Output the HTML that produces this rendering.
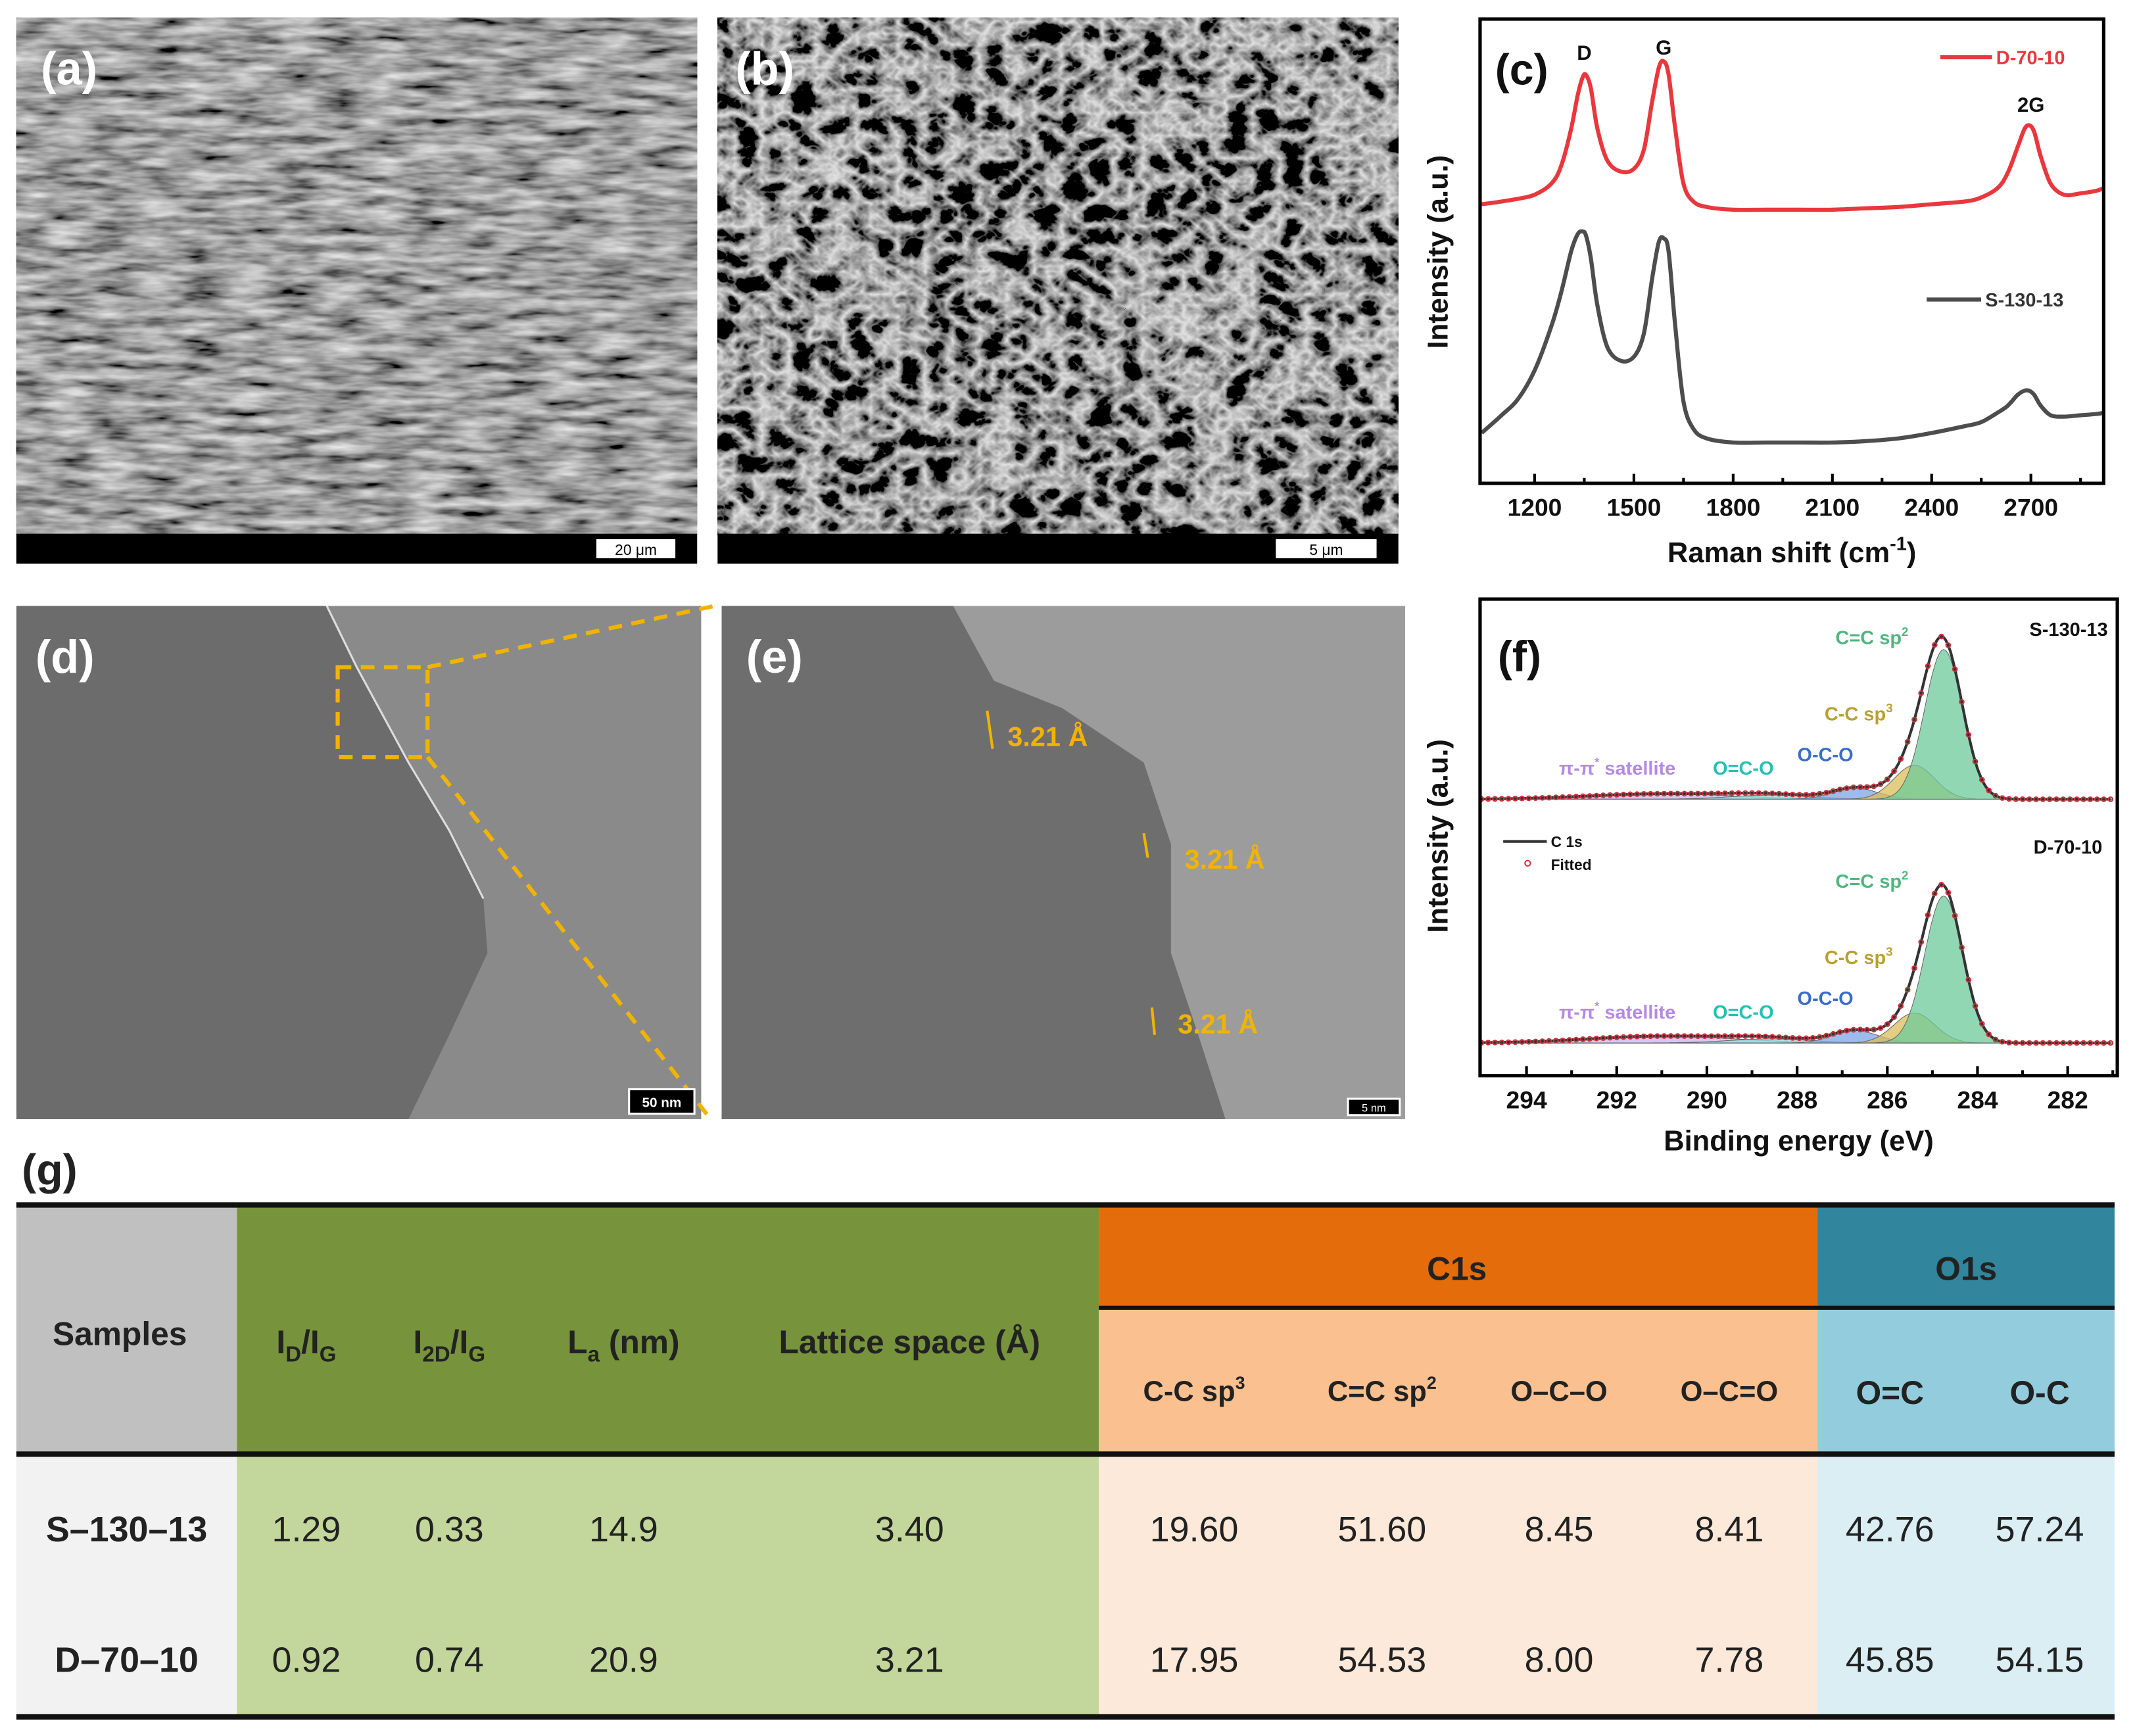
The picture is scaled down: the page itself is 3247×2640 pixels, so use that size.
<!DOCTYPE html>
<html><head><meta charset="utf-8"><style>
html,body{margin:0;padding:0;background:#fff;}
svg{display:block;}
text{font-family:"Liberation Sans",Arial,sans-serif;}
</style></head><body>
<svg id="fig" xmlns="http://www.w3.org/2000/svg" width="3247" height="2640" viewBox="0 0 1568 1275" preserveAspectRatio="none">
<defs>
<filter id="fa" x="0" y="0" width="100%" height="100%"><feTurbulence type="fractalNoise" baseFrequency="0.03 0.15" numOctaves="3" seed="3"/><feColorMatrix type="matrix" values="1.1 0 0 0 -0.2 1.1 0 0 0 -0.2 1.1 0 0 0 -0.2 0 0 0 0 1"/></filter>
<filter id="fb" x="0" y="0" width="100%" height="100%"><feTurbulence type="turbulence" baseFrequency="0.05 0.06" numOctaves="3" seed="7"/><feColorMatrix type="matrix" values="-1.7 0 0 0 0.78 -1.7 0 0 0 0.78 -1.7 0 0 0 0.78 0 0 0 0 1"/></filter>
<clipPath id="cd"><rect x="12" y="445" width="503" height="377"/></clipPath>
<clipPath id="ce"><rect x="530" y="445" width="502" height="377"/></clipPath>
</defs>

<g>
<rect x="12" y="13" width="500" height="380" filter="url(#fa)"/>
<rect x="12" y="392" width="500" height="22" fill="#000"/>
<rect x="438" y="396" width="58" height="14" fill="#fff"/>
<text x="467" y="407.5" font-size="11" text-anchor="middle" fill="#000">20 μm</text>
<text x="30" y="62" font-size="34" font-weight="bold" fill="#fff">(a)</text>
</g>
<g>
<rect x="527" y="13" width="500" height="380" filter="url(#fb)"/>
<rect x="527" y="392" width="500" height="22" fill="#000"/>
<rect x="937" y="396" width="74" height="14" fill="#fff"/>
<text x="974" y="407.5" font-size="11" text-anchor="middle" fill="#000">5 μm</text>
<text x="540" y="62" font-size="34" font-weight="bold" fill="#fff">(b)</text>
</g>

<g clip-path="url(#cd)">
<rect x="12" y="445" width="503" height="377" fill="#8a8a8a"/>
<path d="M12,445 L240,445 L262,490 L300,560 L330,610 L355,660 L358,700 L330,760 L300,822 L12,822Z" fill="#6c6c6c"/>
<path d="M240,445 L262,490 L300,560 L330,610 L355,660" stroke="#ddd" stroke-width="1.5" fill="none"/>
</g>
<g stroke="#f0b400" stroke-width="3" stroke-dasharray="10,7" fill="none">
<rect x="248" y="490" width="66" height="66"/>
<line x1="314" y1="490" x2="525" y2="445"/>
<line x1="314" y1="556" x2="522" y2="822"/>
</g>
<rect x="462" y="800" width="48" height="18" fill="#000" stroke="#fff" stroke-width="1.5"/>
<text x="486" y="813" font-size="10" text-anchor="middle" fill="#fff" font-weight="bold">50 nm</text>
<text x="26" y="494" font-size="34" font-weight="bold" fill="#fff">(d)</text>

<g clip-path="url(#ce)">
<rect x="530" y="445" width="502" height="377" fill="#9c9c9c"/>
<path d="M530,445 L700,445 L730,500 L780,520 L840,560 L860,620 L860,700 L880,760 L900,822 L530,822Z" fill="#6e6e6e"/>
</g>
<g fill="#f0b400" font-size="20" font-weight="bold">
<line x1="725" y1="522" x2="729" y2="550" stroke="#f0b400" stroke-width="2"/>
<text x="740" y="548">3.21 Å</text>
<line x1="840" y1="612" x2="843" y2="630" stroke="#f0b400" stroke-width="2"/>
<text x="870" y="638">3.21 Å</text>
<line x1="846" y1="740" x2="848" y2="760" stroke="#f0b400" stroke-width="2"/>
<text x="865" y="759">3.21 Å</text>
</g>
<rect x="990" y="807" width="38" height="12" fill="#000" stroke="#fff" stroke-width="1.5"/>
<text x="1009" y="816.5" font-size="8" text-anchor="middle" fill="#fff">5 nm</text>
<text x="548" y="494" font-size="34" font-weight="bold" fill="#fff">(e)</text>

<g id="raman"></g>
<g id="xps"></g>

<g id="table">
<text x="16" y="870" font-size="32" font-weight="bold" fill="#222">(g)</text>
<rect x="12" y="887" width="162" height="181" fill="#c0c0c0"/>
<rect x="174" y="887" width="633" height="181" fill="#77933c"/>
<rect x="807" y="887" width="528" height="74" fill="#e46c0a"/>
<rect x="807" y="961" width="528" height="107" fill="#fac090"/>
<rect x="1335" y="887" width="218" height="74" fill="#31859c"/>
<rect x="1335" y="961" width="218" height="107" fill="#93cddd"/>
<rect x="12" y="1068" width="162" height="192" fill="#f2f2f2"/>
<rect x="174" y="1068" width="633" height="192" fill="#c3d69b"/>
<rect x="807" y="1068" width="528" height="192" fill="#fde9d9"/>
<rect x="1335" y="1068" width="218" height="192" fill="#dbeef4"/>
<rect x="12" y="883" width="1541" height="4" fill="#111"/>
<rect x="807" y="959" width="746" height="3" fill="#111"/>
<rect x="12" y="1066" width="1541" height="4" fill="#111"/>
<rect x="12" y="1259" width="1541" height="4" fill="#111"/>
<g font-size="24" font-weight="bold" fill="#222" text-anchor="middle">
<text x="1070" y="940">C1s</text>
<text x="1444" y="940">O1s</text>
<text x="88" y="988">Samples</text>
<text x="225" y="994">I<tspan font-size="16" dy="6">D</tspan><tspan dy="-6">/I</tspan><tspan font-size="16" dy="6">G</tspan></text>
<text x="330" y="994">I<tspan font-size="16" dy="6">2D</tspan><tspan dy="-6">/I</tspan><tspan font-size="16" dy="6">G</tspan></text>
<text x="458" y="994">L<tspan font-size="16" dy="6">a</tspan><tspan dy="-6"> (nm)</tspan></text>
<text x="668" y="994">Lattice space (Å)</text>
<g font-size="21">
<text x="877" y="1029">C-C sp<tspan font-size="13" dy="-9">3</tspan></text>
<text x="1015" y="1029">C=C sp<tspan font-size="13" dy="-9">2</tspan></text>
<text x="1145" y="1029">O–C–O</text>
<text x="1270" y="1029">O–C=O</text>
<text x="1388" y="1031" font-size="24">O=C</text>
<text x="1498" y="1031" font-size="24">O-C</text>
</g>
<text x="93" y="1132" font-size="26">S–130–13</text>
<text x="93" y="1228" font-size="26">D–70–10</text>
</g>
<g id="tbody" font-size="26" fill="#222" text-anchor="middle"></g>
</g>
</svg>
<script>
var NS="http://www.w3.org/2000/svg";
function mk(p,tag,attrs,txt){var e=document.createElementNS(NS,tag);for(var k in attrs)e.setAttribute(k,attrs[k]);if(txt!==undefined)e.textContent=txt;p.appendChild(e);return e;}

var ramanShift=[1040,1100,1150,1200,1250,1280,1310,1330,1345,1355,1370,1390,1420,1460,1500,1530,1555,1575,1590,1605,1625,1650,1680,1720,1800,1900,2000,2100,2200,2300,2400,2500,2550,2600,2630,2660,2680,2695,2710,2730,2760,2800,2850,2900,2920];
var ramanD7010=[205,207,209,212,220,233,260,285,298,300,290,260,237,229,231,245,280,305,310,300,260,220,207,203,201,201,201,201,202,203,205,207,210,217,228,247,260,263,258,240,220,212,213,215,217];
var ramanS13013=[37,50,62,83,115,140,170,183,185,182,165,130,100,90,93,110,150,177,180,170,115,60,40,33,30,30,30,30,31,33,37,42,45,52,57,65,68,68,65,57,50,49,50,51,52];
var ramanTicks=[1200,1500,1800,2100,2400,2700];
var ramanLegend=["D-70-10","S-130-13"];

var rc={l:1087,r:1545,t:14,b:355,x0:1035,x1:2920,y0:0,y1:341};
function rx(v){return rc.l+(v-rc.x0)/(rc.x1-rc.x0)*(rc.r-rc.l);}
function ry(v){return rc.b-(v-rc.y0)/(rc.y1-rc.y0)*(rc.b-rc.t);}
function smoothPath(px){var d="M"+px[0][0].toFixed(1)+","+px[0][1].toFixed(1);for(var i=0;i<px.length-1;i++){var p0=px[i>0?i-1:i],p1=px[i],p2=px[i+1],p3=px[i+2<px.length?i+2:i+1];var c1x=p1[0]+(p2[0]-p0[0])/6,c1y=p1[1]+(p2[1]-p0[1])/6,c2x=p2[0]-(p3[0]-p1[0])/6,c2y=p2[1]-(p3[1]-p1[1])/6;d+=" C"+c1x.toFixed(1)+","+c1y.toFixed(1)+" "+c2x.toFixed(1)+","+c2y.toFixed(1)+" "+p2[0].toFixed(1)+","+p2[1].toFixed(1);}return d;}
(function(){
var g=document.getElementById('raman');
var s2=mk(g,'path',{d:smoothPath(ramanShift.map(function(x,i){return [rx(x),ry(ramanS13013[i])];})),fill:'none',stroke:'#4d4d4d','stroke-width':3});


var s1=mk(g,'path',{d:smoothPath(ramanShift.map(function(x,i){return [rx(x),ry(ramanD7010[i])];})),fill:'none',stroke:'#e8383d','stroke-width':3});


var fr=mk(g,'rect',{x:rc.l,y:rc.t,width:rc.r-rc.l,height:rc.b-rc.t,fill:'none',stroke:'#000','stroke-width':2.5});


ramanTicks.forEach(function(t){
 var x=rx(t);mk(g,'line',{x1:x,x2:x,y1:rc.b,y2:rc.b-7,stroke:'#000','stroke-width':2});
 var m=rx(t+150);if(m<rc.r)mk(g,'line',{x1:m,x2:m,y1:rc.b,y2:rc.b-4,stroke:'#000','stroke-width':2});
 var lb=mk(g,'text',{x:x,y:379,'font-size':18,'font-weight':'bold','text-anchor':'middle',fill:'#111'},String(t));
 
 
});
var xt=mk(g,'text',{x:1316,y:413,'font-size':21,'font-weight':'bold','text-anchor':'middle',fill:'#111'});


xt.innerHTML='Raman shift (cm<tspan font-size="14" dy="-9">-1</tspan><tspan dy="9">)</tspan>';
var yt=mk(g,'text',{x:0,y:0,'font-size':21,'font-weight':'bold','text-anchor':'middle',fill:'#111',transform:'translate(1063,185) rotate(-90)'},'Intensity (a.u.)');


var pl=mk(g,'text',{x:1098,y:62,'font-size':32,'font-weight':'bold',fill:'#111'},'(c)');


[['D',1350,44],['G',1590,40],['2G',2700,82]].forEach(function(a){var t=mk(g,'text',{x:rx(a[1]),y:a[2],'font-size':15,'font-weight':'bold','text-anchor':'middle',fill:'#111'},a[0]);});
var l1=mk(g,'line',{x1:1425,x2:1463,y1:42,y2:42,stroke:'#e8383d','stroke-width':3});


var t1=mk(g,'text',{x:1466,y:47,'font-size':14,'font-weight':'bold',fill:'#e8383d'},ramanLegend[0]);


var l2=mk(g,'line',{x1:1415,x2:1455,y1:220,y2:220,stroke:'#4d4d4d','stroke-width':3});


var t2=mk(g,'text',{x:1458,y:225,'font-size':14,'font-weight':'bold',fill:'#333'},ramanLegend[1]);


})();

var xpsNames=["satellite","O=C-O","O-C-O","C-C sp3","C=C sp2"];
var xpsCenters=[291.0,288.6,286.7,285.4,284.75];
var xpsSigma=[1.6,0.9,0.5,0.45,0.42];
var xpsHeightS=[4,3,8,25,110];
var xpsHeightD=[5,3,9,22,108];
var xpsTicks=[294,292,290,288,286,284,282];
var xpsColors=["#c9b3ef","#8ee0e0","#7ea6e4","#d9bd5a","#6ec99a"];
var xpsBase=[587,766];

var xc={l:1087,r:1555,t:440,b:790,e0:295.03,e1:280.9};
function xx(e){return xc.l+(xc.e0-e)/(xc.e0-xc.e1)*(xc.r-xc.l);}
function gauss(e,c,s,h){return h*Math.exp(-(e-c)*(e-c)/(2*s*s));}
(function(){
var g=document.getElementById('xps');
[xpsHeightS,xpsHeightD].forEach(function(H,k){
 var base=xpsBase[k];
 xpsCenters.forEach(function(c,i){
  var d="M"+xx(295)+","+base;
  for(var e=295;e>=281;e-=0.05){d+=" L"+xx(e).toFixed(1)+","+(base-gauss(e,c,xpsSigma[i],H[i])).toFixed(1);}
  d+=" L"+xx(281)+","+base+"Z";
  var p=mk(g,'path',{d:d,fill:xpsColors[i],'fill-opacity':0.75,stroke:'#666','stroke-width':0.5});
  
  
 });
 var pts=[];
 for(var e=295;e>=281;e-=0.05){var v=0;for(var i=0;i<xpsCenters.length;i++)v+=gauss(e,xpsCenters[i],xpsSigma[i],H[i]);pts.push([xx(e),base-v]);}
 var env=mk(g,'path',{d:"M"+pts.map(function(p){return p[0].toFixed(1)+","+p[1].toFixed(1);}).join(" L"),fill:'none',stroke:'#333','stroke-width':2});
 
 
 for(var j=0;j<pts.length;j+=3){mk(g,'circle',{cx:pts[j][0],cy:pts[j][1],r:1.6,fill:'none',stroke:'#d0303a','stroke-width':1});}
});
var fr=mk(g,'rect',{x:xc.l,y:xc.t,width:xc.r-xc.l,height:xc.b-xc.t,fill:'none',stroke:'#000','stroke-width':2.5});


xpsTicks.forEach(function(t){
 var x=xx(t);mk(g,'line',{x1:x,x2:x,y1:xc.b,y2:xc.b-7,stroke:'#000','stroke-width':2});
 var m=xx(t-1);if(m<xc.r)mk(g,'line',{x1:m,x2:m,y1:xc.b,y2:xc.b-4,stroke:'#000','stroke-width':2});
 var lb=mk(g,'text',{x:x,y:814,'font-size':18,'font-weight':'bold','text-anchor':'middle',fill:'#111'},String(t));
 
 
});
var xt=mk(g,'text',{x:1321,y:845,'font-size':21,'font-weight':'bold','text-anchor':'middle',fill:'#111'},'Binding energy (eV)');


var yt=mk(g,'text',{x:0,y:0,'font-size':21,'font-weight':'bold','text-anchor':'middle',fill:'#111',transform:'translate(1063,614) rotate(-90)'},'Intensity (a.u.)');


var pl=mk(g,'text',{x:1100,y:493,'font-size':32,'font-weight':'bold',fill:'#111'},'(f)');


var n1=mk(g,'text',{x:1548,y:467,'font-size':14,'font-weight':'bold','text-anchor':'end',fill:'#111'},'S-130-13');


var n2=mk(g,'text',{x:1544,y:627,'font-size':14,'font-weight':'bold','text-anchor':'end',fill:'#111'},'D-70-10');


mk(g,'line',{x1:1104,x2:1136,y1:618,y2:618,stroke:'#333','stroke-width':2});
mk(g,'text',{x:1139,y:622,'font-size':11,'font-weight':'bold',fill:'#111'},'C 1s');
mk(g,'circle',{cx:1122,cy:634,r:2,fill:'none',stroke:'#d0303a','stroke-width':1});
mk(g,'text',{x:1139,y:639,'font-size':11,'font-weight':'bold',fill:'#111'},'Fitted');
[[0,0],[1,179]].forEach(function(o){
 var dy=o[1];
 function lab(x,y,c,html){var t=mk(g,'text',{x:x,y:y+dy,'font-size':14,'font-weight':'bold',fill:c});t.innerHTML=html;}
 lab(1348,473,'#4fb67e','C=C sp<tspan font-size="9" dy="-6">2</tspan>');
 lab(1340,529,'#b9a030','C-C sp<tspan font-size="9" dy="-6">3</tspan>');
 lab(1320,559,'#3a6ccc','O-C-O');
 lab(1258,569,'#22c2b2','O=C-O');
 lab(1145,569,'#b48ae4','π-π<tspan font-size="9" dy="-6">*</tspan><tspan dy="6"> satellite</tspan>');
});
})();

var colCenters=[225,330,458,668,877,1015,1145,1270,1388,1498];
var rowS=["1.29","0.33","14.9","3.40","19.60","51.60","8.45","8.41","42.76","57.24"];
var rowD=["0.92","0.74","20.9","3.21","17.95","54.53","8.00","7.78","45.85","54.15"];
(function(){
var g=document.getElementById('tbody');
[[rowS,1132],[rowD,1228]].forEach(function(r){
 r[0].forEach(function(v,i){var t=mk(g,'text',{x:colCenters[i],y:r[1]},v);});
});
})();
</script>
</body></html>
